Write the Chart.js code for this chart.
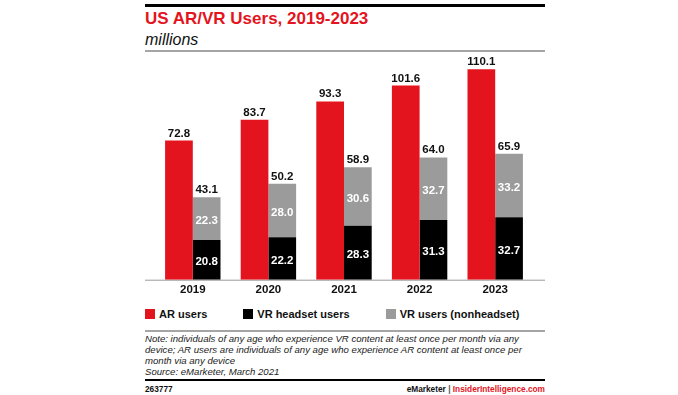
<!DOCTYPE html>
<html>
<head>
<meta charset="utf-8">
<script src="https://cdn.jsdelivr.net/npm/chart.js@4.4.1/dist/chart.umd.min.js"></script>
<style>
  html, body { margin: 0; padding: 0; background: #fff; }
  body { width: 678px; height: 395px; position: relative; overflow: hidden; font-family: "Liberation Sans", Arial, sans-serif; color: #111; }
  .abs { position: absolute; }
  .rule { position: absolute; left: 145px; width: 400px; }
  #title { left: 145px; top: 9px; font-size: 17px; line-height: 20px; font-weight: bold; color: #e3141d; white-space: nowrap; }
  #sub { left: 145px; top: 30.5px; font-size: 16px; line-height: 18px; font-style: italic; }
  #chartBox { position: absolute; left: 145px; top: 52px; width: 400px; height: 248px; }
  #legend { left: 145px; top: 308px; display: flex; gap: 36px; font-size: 11px; line-height: 12px; font-weight: bold; white-space: nowrap; }
  #legend .item { display: flex; align-items: center; }
  #legend .sw { width: 10px; height: 10px; margin-right: 4px; }
  #note { left: 145px; top: 333px; font-size: 9.6px; line-height: 11px; font-style: italic; white-space: nowrap; color: #222; }
  #id { left: 145px; top: 384px; font-size: 8.3px; line-height: 10px; font-weight: bold; }
  #brand { right: 133px; top: 384px; font-size: 8.3px; line-height: 10px; font-weight: bold; white-space: nowrap; }
</style>
</head>
<body>
<div class="rule" style="top:4px;height:2.5px;background:#000"></div>
<div id="title" class="abs">US AR/VR Users, 2019-2023</div>
<div id="sub" class="abs">millions</div>
<div class="rule" style="top:50px;height:2px;background:#a5a5a5"></div>

<div id="chartBox"><canvas id="statsChart"></canvas></div>

<div id="legend" class="abs"></div>
<div class="rule" style="top:330px;height:2px;background:#a5a5a5"></div>
<div id="note" class="abs">Note: individuals of any age who experience VR content at least once per month via any<br>device; AR users are individuals of any age who experience AR content at least once per<br>month via any device<br>Source: eMarketer, March 2021</div>
<div class="rule" style="top:378.5px;height:2.5px;background:#000"></div>
<div id="id" class="abs">263777</div>
<div id="brand" class="abs">eMarketer <span style="color:#555">|</span> <span style="color:#e3141d">InsiderIntelligence.com</span></div>

<script>
// data
const years = ['2019', '2020', '2021', '2022', '2023'];
const arUsers = [72.8, 83.7, 93.3, 101.6, 110.1];
const vrHeadset = [20.8, 22.2, 28.3, 31.3, 32.7];
const vrNonHeadset = [22.3, 28.0, 30.6, 32.7, 33.2];
const seriesNames = ['AR users', 'VR headset users', 'VR users (nonheadset)'];
const seriesColors = ['#e3141d', '#000000', '#9b9b9b'];

const labelFont = 'bold 11.5px "Liberation Sans", Arial, sans-serif';

// garis sumbu bawah, lebih lebar dari area chart
const baseLine = {
    id: 'baseLine',
    beforeDatasetsDraw(chart) {
        const { ctx, chartArea } = chart;
        ctx.save();
        ctx.strokeStyle = '#9a9a9a';
        ctx.lineWidth = 1;
        ctx.beginPath();
        ctx.moveTo(0, chartArea.bottom + 0.5);
        ctx.lineTo(chart.width, chartArea.bottom + 0.5);
        ctx.stroke();
        ctx.restore();
    }
};

// label angka di atas dan di dalam batang
const valueLabels = {
    id: 'valueLabels',
    afterDatasetsDraw(chart) {
        const { ctx } = chart;
        ctx.save();
        ctx.font = labelFont;
        ctx.textAlign = 'center';
        chart.data.datasets.forEach((ds, i) => {
            const meta = chart.getDatasetMeta(i);
            meta.data.forEach((bar, j) => {
                const v = ds.data[j];
                if (i === 0) {
                    ctx.fillStyle = '#111';
                    ctx.textBaseline = 'alphabetic';
                    ctx.fillText(v.toFixed(1), bar.x, bar.y - 4);
                } else {
                    ctx.fillStyle = '#fff';
                    ctx.textBaseline = 'middle';
                    ctx.fillText(v.toFixed(1), bar.x, (bar.y + bar.base) / 2 + 2);
                    if (i === 2) {
                        const total = vrHeadset[j] + vrNonHeadset[j];
                        ctx.fillStyle = '#111';
                        ctx.textBaseline = 'alphabetic';
                        ctx.fillText(total.toFixed(1), bar.x, bar.y - 4);
                    }
                }
            });
        });
        ctx.restore();
    }
};

document.addEventListener('DOMContentLoaded', () => {
    const ctx = document.getElementById('statsChart');
    new Chart(ctx, {
        type: 'bar',
        data: {
            labels: years,
            datasets: [
                { label: seriesNames[0], data: arUsers, backgroundColor: seriesColors[0], stack: 'ar' },
                { label: seriesNames[1], data: vrHeadset, backgroundColor: seriesColors[1], stack: 'vr' },
                { label: seriesNames[2], data: vrNonHeadset, backgroundColor: seriesColors[2], stack: 'vr' }
            ]
        },
        options: {
            responsive: true,
            maintainAspectRatio: false,
            animation: false,
            categoryPercentage: 0.733,
            barPercentage: 1,
            layout: { padding: { top: 8, left: 10, right: 12, bottom: 0.5 } },
            scales: {
                x: {
                    stacked: true,
                    grid: { display: false, drawTicks: false },
                    border: { display: false },
                    ticks: { padding: 3, color: '#111', font: { family: '"Liberation Sans", Arial, sans-serif', size: 11.5, weight: 'bold' } }
                },
                y: {
                    stacked: true,
                    display: false,
                    min: 0,
                    max: 115
                }
            },
            plugins: {
                legend: { display: false },
                tooltip: { enabled: false }
            }
        },
        plugins: [baseLine, valueLabels]
    });

    // legenda html
    const leg = document.getElementById('legend');
    seriesNames.forEach((name, i) => {
        const it = document.createElement('div');
        it.className = 'item';
        it.innerHTML = '<span class="sw" style="background:' + seriesColors[i] + '"></span>' + name;
        leg.appendChild(it);
    });
});
</script>
</body>
</html>
